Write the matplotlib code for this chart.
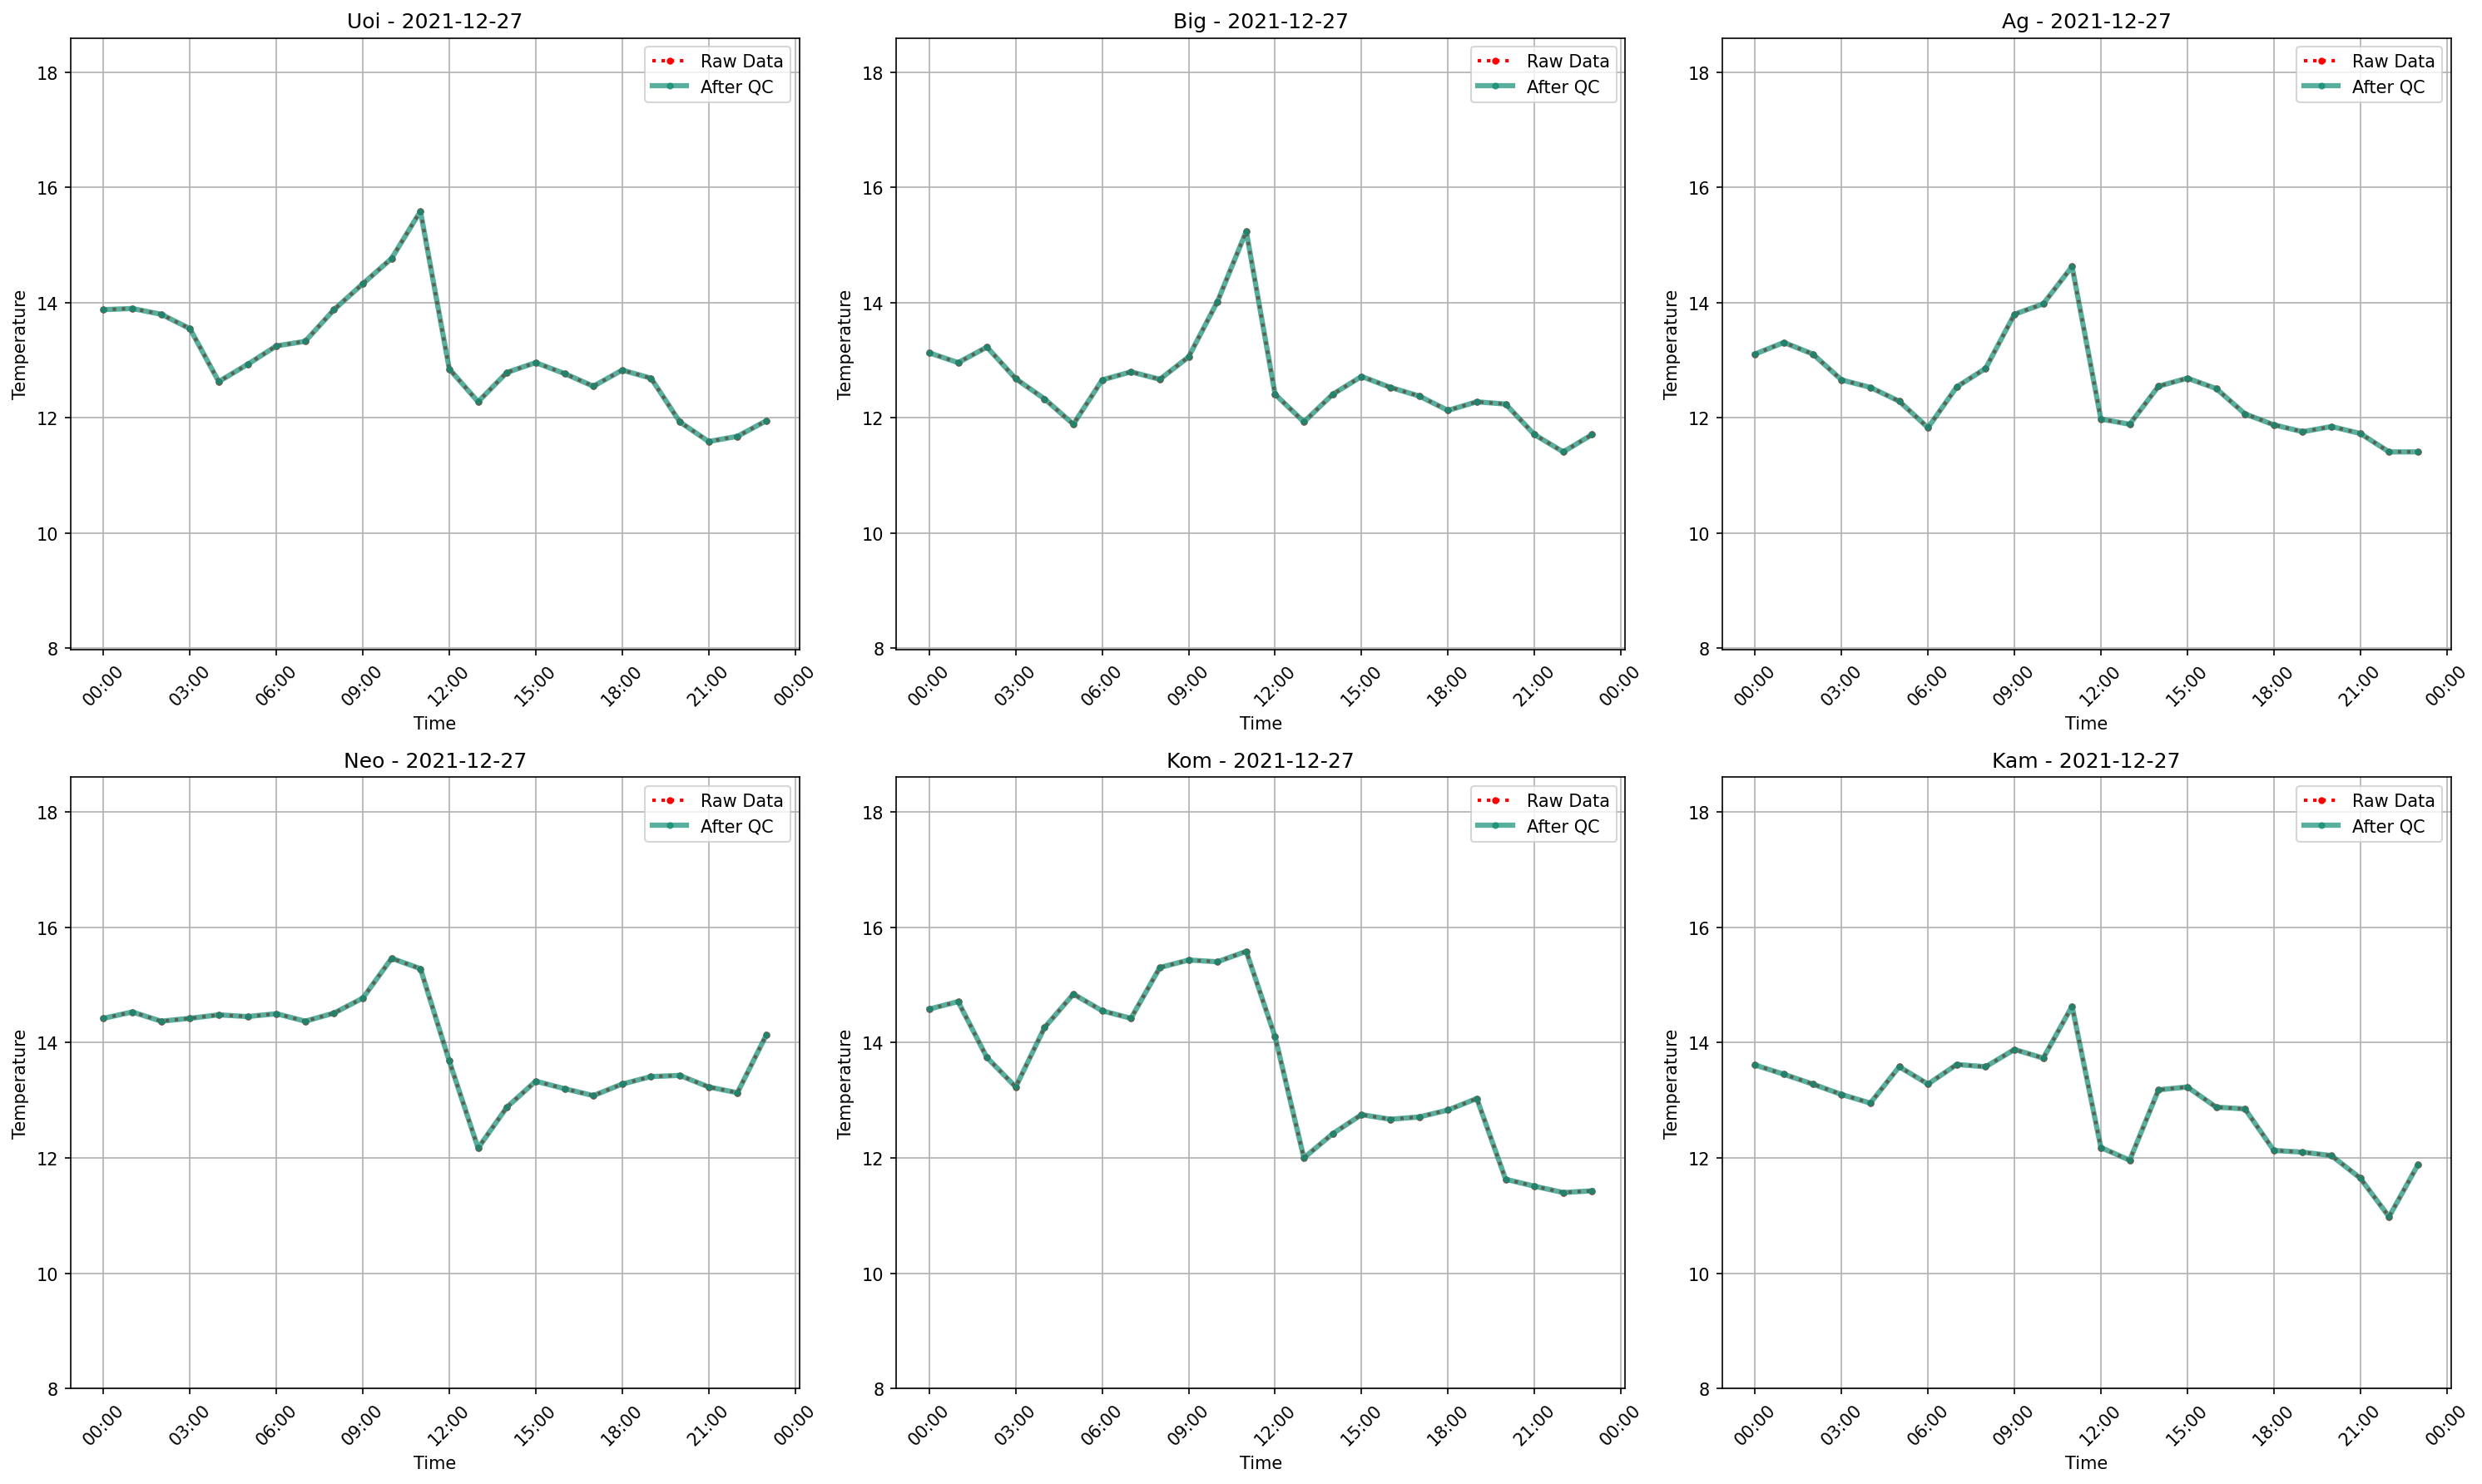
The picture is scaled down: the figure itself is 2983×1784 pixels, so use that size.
import matplotlib
matplotlib.use("Agg")
import matplotlib.pyplot as plt
import matplotlib.dates as mdates
import pandas as pd
import numpy as np

date_str = "2021-12-27"
hours = pd.date_range("2021-12-27 00:00", periods=24, freq="h")

stations = ["Uoi", "Big", "Ag", "Neo", "Kom", "Kam"]

uoi = [13.88, 13.90, 13.80, 13.55, 12.63, 12.93, 13.25, 13.33, 13.88, 14.33, 14.77, 15.59,
       12.85, 12.28, 12.79, 12.96, 12.77, 12.55, 12.83, 12.69, 11.93, 11.59, 11.68, 11.95]
big = [13.13, 12.96, 13.23, 12.68, 12.33, 11.89, 12.66, 12.80, 12.67, 13.06, 14.02, 15.24,
       12.41, 11.93, 12.41, 12.72, 12.53, 12.38, 12.13, 12.28, 12.24, 11.71, 11.41, 11.71]
ag = [13.11, 13.31, 13.11, 12.66, 12.53, 12.29, 11.83, 12.54, 12.86, 13.80, 13.98, 14.63,
      11.98, 11.89, 12.55, 12.69, 12.51, 12.07, 11.88, 11.76, 11.85, 11.73, 11.41, 11.41]
neo = [14.42, 14.53, 14.37, 14.42, 14.48, 14.45, 14.50, 14.37, 14.51, 14.77, 15.46, 15.28,
       13.68, 12.17, 12.88, 13.33, 13.20, 13.08, 13.28, 13.41, 13.43, 13.23, 13.13, 14.13]
kom = [14.58, 14.71, 13.74, 13.23, 14.26, 14.84, 14.55, 14.42, 15.30, 15.43, 15.40, 15.58,
       14.10, 12.00, 12.42, 12.75, 12.67, 12.71, 12.83, 13.03, 11.63, 11.51, 11.40, 11.43]
kam = [13.61, 13.45, 13.28, 13.10, 12.95, 13.58, 13.28, 13.62, 13.58, 13.88, 13.73, 14.63,
       12.18, 11.96, 13.18, 13.23, 12.88, 12.85, 12.13, 12.10, 12.04, 11.65, 10.98, 11.88]

raw_series = [uoi, big, ag, neo, kom, kam]
qc_series = [uoi, big, ag, neo, kom, kam]
y_lows = [7.98, 7.98, 7.98, 8.0, 8.0, 8.0]

fig, axes = plt.subplots(2, 3, figsize=(20, 12), dpi=150)
for ax, name, raw, qc, ylo in zip(axes.flat, stations, raw_series, qc_series, y_lows):
    ax.plot(hours, raw, color="red", linestyle=":", marker="o", markersize=3,
            linewidth=2, label="Raw Data")
    ax.plot(hours, qc, color="#138d75", linestyle="-", marker="o", markersize=3,
            linewidth=3, alpha=0.7, label="After QC")
    ax.set_title(f"{name} - {date_str}")
    ax.set_xlabel("Time")
    ax.set_ylabel("Temperature")
    ax.set_ylim(ylo, 18.6)
    ax.xaxis.set_major_locator(mdates.HourLocator(interval=3))
    ax.xaxis.set_major_formatter(mdates.DateFormatter("%H:%M"))
    ax.tick_params(axis="x", rotation=45)
    ax.grid(True)
    ax.legend(loc="upper right")

plt.tight_layout()
plt.savefig("out.png", dpi=150, bbox_inches="tight")
